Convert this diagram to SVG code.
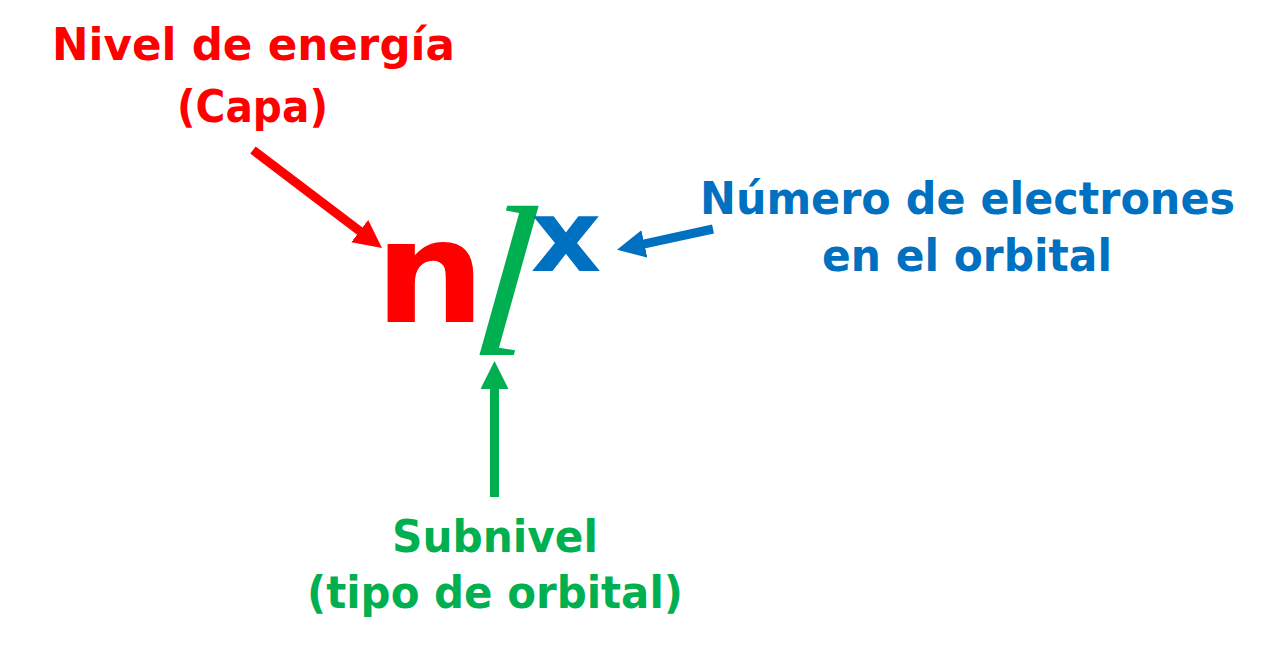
<svg xmlns="http://www.w3.org/2000/svg" width="1280" height="660" viewBox="0 0 1280 660">
  <style>
    .lbl { font-family: "DejaVu Sans", "Liberation Sans", sans-serif; font-weight: bold; font-size: 44px; text-anchor: middle; }
    .red { fill: #FF0000; }
    .green { fill: #00B050; }
    .blue { fill: #0070C0; }
    .conn { stroke-width: 9; fill: none; }
  </style>
  <defs>
    <marker id="headRed" markerUnits="userSpaceOnUse" markerWidth="30" markerHeight="30" refX="1" refY="14" orient="auto">
      <path d="M0,0 L28,14 L0,28 z" fill="#FF0000"/>
    </marker>
    <marker id="headBlue" markerUnits="userSpaceOnUse" markerWidth="30" markerHeight="30" refX="1" refY="14" orient="auto">
      <path d="M0,0 L28,14 L0,28 z" fill="#0070C0"/>
    </marker>
    <marker id="headGreen" markerUnits="userSpaceOnUse" markerWidth="30" markerHeight="30" refX="1" refY="14" orient="auto">
      <path d="M0,0 L28,14 L0,28 z" fill="#00B050"/>
    </marker>
  </defs>
  <rect width="1280" height="660" fill="#FFFFFF"/>

  <g id="label-nivel">
    <text class="lbl red" x="253.5" y="60" textLength="403" lengthAdjust="spacingAndGlyphs">Nivel de energía</text>
    <text class="lbl red" x="252.5" y="122" textLength="151" lengthAdjust="spacingAndGlyphs">(Capa)</text>
  </g>

  <g id="label-electrones">
    <text class="lbl blue" x="967.5" y="214" textLength="535" lengthAdjust="spacingAndGlyphs">Número de electrones</text>
    <text class="lbl blue" x="967" y="271" textLength="290" lengthAdjust="spacingAndGlyphs">en el orbital</text>
  </g>

  <g id="label-subnivel">
    <text class="lbl green" x="495" y="552" textLength="206" lengthAdjust="spacingAndGlyphs">Subnivel</text>
    <text class="lbl green" x="495" y="608" textLength="376" lengthAdjust="spacingAndGlyphs">(tipo de orbital)</text>
  </g>

  <g id="formula-n" transform="translate(430,322) scale(1.09,1)">
    <text class="red" x="0" y="0" font-family="DejaVu Sans, sans-serif" font-weight="bold" font-size="143" text-anchor="middle">n</text>
  </g>
  <g id="formula-l" transform="translate(480,355) skewX(-6)">
    <text class="green" x="-12" y="0" font-family="Liberation Serif, serif" font-style="italic" font-size="215">l</text>
  </g>
  <g id="formula-x" transform="translate(566,271) scale(1.1,1)">
    <text class="blue" x="0" y="0" font-family="DejaVu Sans, sans-serif" font-weight="bold" font-size="100" text-anchor="middle">x</text>
  </g>

  <g id="connectors">
    <line class="conn" x1="253" y1="150" x2="360.5" y2="231.7" stroke="#FF0000" marker-end="url(#headRed)"/>
    <line class="conn" x1="713" y1="229" x2="643.4" y2="244.1" stroke="#0070C0" marker-end="url(#headBlue)"/>
    <line class="conn" x1="494.5" y1="497" x2="494.5" y2="388" stroke="#00B050" marker-end="url(#headGreen)"/>
  </g>
</svg>
